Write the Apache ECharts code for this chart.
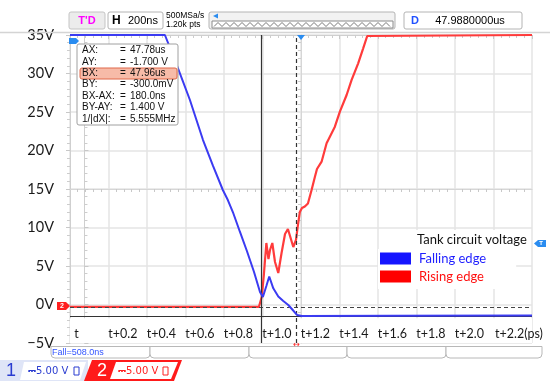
<!DOCTYPE html>
<html><head><meta charset="utf-8">
<script src="https://cdn.jsdelivr.net/npm/echarts@6/dist/echarts.min.js"></script>
<style>html,body{margin:0;padding:0;background:#fff}#c{width:550px;height:381px}</style>
</head><body><div id="c"></div>
<script>
// ---- data (time in "t" units, voltage in V) ----
const fallTime = [-0.075, 0.418, 0.470, 0.548, 0.616, 0.668, 0.719, 0.745, 0.771, 0.808, 0.844, 0.881, 0.912, 0.927, 0.945, 0.960, 0.981, 1.007, 1.033, 1.059, 1.080, 1.104, 1.130, 1.600, 2.325];
const fallVolt = [35, 35, 31.75, 26.56, 21.36, 17.99, 14.87, 13.57, 12.01, 9.42, 6.95, 4.22, 1.62, 0.97, 2.40, 3.64, 2.10, 1.04, 0.45, -0.06, -0.65, -1.36, -1.48, -1.45, -1.43];
const riseTime = [-0.075, 0.906, 0.921, 0.932, 0.945, 0.956, 0.964, 0.976, 0.990, 1.007, 1.024, 1.042, 1.057, 1.068, 1.085, 1.099, 1.109, 1.119, 1.130, 1.145, 1.161, 1.180, 1.197, 1.208, 1.232, 1.258, 1.275, 1.301, 1.327, 1.362, 1.388, 1.422, 1.448, 1.469, 1.478, 2.325];
const riseVolt = [-0.32, -0.32, 0.97, 3.83, 7.99, 5.91, 7.08, 7.99, 5.52, 4.09, 6.69, 9.16, 9.81, 8.90, 7.47, 8.38, 10.32, 12.01, 12.53, 12.73, 13.12, 14.87, 16.56, 17.60, 18.55, 20.94, 21.79, 23.09, 25.04, 27.21, 29.16, 31.32, 33.27, 34.87, 35, 35];
const tickValues = [0, 0.2, 0.4, 0.6, 0.8, 1.0, 1.2, 1.4, 1.6, 1.8, 2.0, 2.2];
const tickLabels = ['t', 't+0.2', 't+0.4', 't+0.6', 't+0.8', 't+1.0', 't+1.2', 't+1.4', 't+1.6', 't+1.8', 't+2.0', 't+2.2(ps)'];
const seriesNames = ['Falling edge', 'Rising edge'];
const legendTitle = 'Tank circuit voltage';
const cursorAX = 0.917, cursorBX = 1.099, cursorAY = -1.55, cursorBY = -0.3;
const cursorRows = [['AX:', '47.78us'], ['AY:', '-1.700 V'], ['BX:', '47.96us'], ['BY:', '-300.0mV'], ['BX-AX:', '180.0ns'], ['BY-AY:', '1.400 V'], ['1/|dX|:', '5.555MHz']];

const xMin = -0.075, xMax = 2.325, yMin = -5, yMax = 35;
const BLUE = '#3b3bf2', RED = '#ff3b3b';
const FONT = 'Lato';
const zip = (a, b) => a.map((v, i) => [v, b[i]]);

// ---- decorations (oscilloscope frame) ----
const deco = [];
const Z = 100;
const rect = (x, y, w, h, fill, stroke, r) => deco.push({type: 'rect', z: Z, shape: {x, y, width: w, height: h, r: r || 0}, style: {fill, stroke, lineWidth: 1}});
const txt = (x, y, text, font, fill, align) => deco.push({type: 'text', z: Z + 1, x, y, style: {text, font, fill, align: align || 'left', verticalAlign: 'middle'}});
const poly = (pts, fill) => deco.push({type: 'polygon', z: Z, shape: {points: pts}, style: {fill}});

deco.push({type: 'line', z: Z, shape: {x1: 0, y1: 32.5, x2: 550, y2: 32.5}, style: {stroke: '#d4d4d4', lineWidth: 1.5}});
rect(69, 12, 36, 17, '#ececec', '#c4c4c4', 2); txt(87, 20.5, "T'D", 'bold 11px "Liberation Sans"', '#ff00ff', 'center');
rect(108, 12, 55, 17, '#fff', '#b4b4b4', 2); txt(112, 20.5, 'H', 'bold 12px "Liberation Sans"', '#000'); txt(128, 20.5, '200ns', '11px "Liberation Sans"', '#000');
txt(166, 16, '500MSa/s', '8.5px "Liberation Sans"', '#000'); txt(166, 25, '1.20k pts', '8.5px "Liberation Sans"', '#000');
rect(209, 12, 186, 17, '#f2f2f2', '#b4b4b4', 2); rect(212, 21, 181, 7, '#fff', '#8c8c8c', 0);
poly([[213, 16], [218, 13.5], [218, 18.5]], '#2a8cf0');
const zz = []; for (let i = 0; i <= 44; i++) zz.push([214 + i * 4, i % 2 ? 22.5 : 26.5]);
deco.push({type: 'polyline', z: Z + 1, shape: {points: zz}, style: {stroke: '#555', lineWidth: 0.8, fill: null}});
rect(404, 12, 118, 17, '#fff', '#b4b4b4', 2); txt(411, 20.5, 'D', 'bold 11px "Liberation Sans"', '#2050ff'); txt(470, 20.5, '47.9880000us', '11px "Liberation Sans"', '#000', 'center');
// cursor readout box
rect(77, 44, 101, 81, '#fff', '#a0a0a0', 2);
rect(80, 68, 97, 11, '#f7bba8', '#e0684a', 2);
cursorRows.forEach((r, i) => { const y = 50.5 + i * 11.4; txt(82, y, r[0], '10px "Liberation Sans"', '#111'); txt(120, y, '=', '10px "Liberation Sans"', '#111'); txt(130, y, r[1], '10px "Liberation Sans"', '#111'); });
// flags
poly([[69, 38], [76, 38], [79, 41], [76, 44], [69, 44]], '#2a8cf0');
poly([[297, 35], [305, 35], [301, 40]], '#2a8cf0');
poly([[57, 302], [66, 302], [70, 306], [66, 310], [57, 310]], '#ff2020'); txt(62, 306.2, '2', 'bold 7px "Liberation Sans"', '#fff', 'center');
poly([[538, 240], [546, 240], [546, 247], [538, 247], [534, 243.5]], '#2a8cf0'); txt(541, 243.6, 'T', 'bold 6px "Liberation Sans"', '#fff', 'center');
txt(296.5, 345, '↔', '8px "DejaVu Sans"', '#ff2020', 'center');
// bottom tabs
[[51, 150], [150, 249], [249, 347], [347, 446], [446, 542]].forEach(s => rect(s[0], 346.5, s[1] - s[0], 11.5, '#fff', '#b8b8b8', [0, 0, 4, 4]));
txt(52, 353, 'Fall=508.0ns', '9px "Liberation Sans"', '#3355ff');
// channel boxes
rect(0, 360, 88, 21, '#dfe5f7', null, 0);
txt(11, 371, '1', '18px "Liberation Sans"', '#2a3cd0', 'center');
poly([[24, 362], [86, 362], [80, 380], [20, 380]], '#fff');
txt(28, 371, '⎓5.00 V', '10px "DejaVu Sans"', '#2a3cd0');
rect(74, 367, 5, 8, '#fff', '#2a3cd0', 0);
poly([[92, 360], [182, 360], [174, 381], [84, 381]], '#ff1a1a');
txt(102, 371, '2', '18px "Liberation Sans"', '#fff', 'center');
poly([[116, 362], [178, 362], [171, 379], [110, 379]], '#fff');
txt(118, 371, '⎓5.00 V', '10px "DejaVu Sans"', '#ff2020');
rect(163, 367, 5, 8, '#fff', '#ff2020', 0);

const edgeAxis = (extra) => Object.assign({
  type: 'value', min: 0, max: 12, interval: 1,
  axisLine: {show: true, lineStyle: {color: '#cfcfcf', width: 1}},
  axisTick: {show: true, inside: true, length: 4, lineStyle: {color: '#c8c8c8'}},
  minorTick: {show: true, splitNumber: 5, length: 3, lineStyle: {color: '#cdcdcd'}},
  axisLabel: {show: false}, splitLine: {show: false}
}, extra);
const edgeYAxis = (extra) => Object.assign(edgeAxis({}), {min: yMin, max: yMax, interval: 5}, extra);

const chart = echarts.init(document.getElementById('c'), null, {renderer: 'canvas'});
chart.setOption({
  animation: false,
  grid: {left: 70, right: 18, top: 35, bottom: 38, containLabel: false},
  title: {text: legendTitle, left: 413, top: 230, padding: [3, 4, 3, 4], backgroundColor: '#fff',
    textStyle: {fontFamily: FONT, fontSize: 13, fontWeight: 'normal', color: '#111'}},
  legend: {
    orient: 'vertical', left: 378, top: 249, itemGap: 5, icon: 'rect', itemWidth: 31, itemHeight: 12,
    backgroundColor: '#fff', padding: [3, 30, 6, 2], selectedMode: false,
    textStyle: {fontFamily: FONT, fontSize: 13, padding: [0, 0, 0, 3]},
    data: [
      {name: seriesNames[0], itemStyle: {color: '#1515ff'}, textStyle: {color: '#1f1fff'}},
      {name: seriesNames[1], itemStyle: {color: '#ff0000'}, textStyle: {color: '#ff1010'}}
    ]
  },
  xAxis: [
    {type: 'value', min: xMin, max: xMax, z: 6,
      axisLine: {show: false}, axisTick: {show: false}, splitLine: {show: false},
      axisLabel: {inside: true, margin: 3, customValues: tickValues, fontFamily: FONT, fontSize: 12.5, color: '#1a1a1a',
        formatter: v => { const i = tickValues.findIndex(t => Math.abs(t - v) < 1e-6); const s = tickLabels[i] || '';
          if (i === 0) return '{a|' + s + '}'; if (i === tickLabels.length - 1) return '{b|' + s + '}'; return s; },
        rich: {a: {padding: [0, 16, 0, 0], fontFamily: FONT, fontSize: 12.5, color: '#1a1a1a'},
               b: {padding: [0, 0, 0, 22], fontFamily: FONT, fontSize: 12.5, color: '#1a1a1a'}}}},
    {type: 'value', min: 0, max: 12, interval: 1, axisLine: {show: false}, axisTick: {show: false}, axisLabel: {show: false},
      splitLine: {show: true, lineStyle: {color: '#e4e4e4', width: 1.5}}},
    edgeAxis({position: 'bottom', offset: -154, axisTick: {show: false}, minorTick: {show: true, splitNumber: 5, length: 3, lineStyle: {color: '#c8c8c8'}}, axisLine: {show: true, lineStyle: {color: '#d6d6d6'}}}),
    edgeAxis({position: 'top'})
  ],
  yAxis: [
    {type: 'value', min: yMin, max: yMax, interval: 5,
      axisLine: {show: true, lineStyle: {color: '#cfcfcf'}},
      axisTick: {show: true, inside: true, length: 4, lineStyle: {color: '#c8c8c8'}},
      minorTick: {show: true, splitNumber: 5, length: 3, lineStyle: {color: '#cdcdcd'}},
      splitLine: {show: true, lineStyle: {color: '#e4e4e4', width: 1.5}},
      axisLabel: {margin: 16, fontFamily: FONT, fontSize: 14.5, color: '#1a1a1a',
        formatter: v => (v < 0 ? '\u2212' + (-v) : v) + 'V'}},
    edgeYAxis({position: 'left', offset: -231, axisTick: {show: false}, axisLine: {show: true, lineStyle: {color: '#d6d6d6'}}}),
    edgeYAxis({position: 'right'})
  ],
  graphic: deco,
  series: [
    {name: 'band', type: 'line', data: [], z: 1, silent: true, xAxisIndex: 0, yAxisIndex: 0,
      markArea: {silent: true, itemStyle: {color: '#fff'}, data: [[{xAxis: xMin, yAxis: yMin}, {xAxis: xMax, yAxis: -1.78}]]}},
    {name: 'cursors', type: 'line', data: [], z: 3, silent: true, xAxisIndex: 0, yAxisIndex: 0,
      markLine: {silent: true, symbol: ['none', 'none'], label: {show: false},
        data: [
          {yAxis: cursorBY, lineStyle: {type: [4, 3], color: '#444', width: 1.2}},
          {yAxis: cursorAY, lineStyle: {type: 'solid', color: '#333', width: 1.2}},
          {xAxis: cursorAX, lineStyle: {type: 'solid', color: '#333', width: 1.2}},
          {xAxis: cursorBX, lineStyle: {type: [4, 3], color: '#333', width: 1.2}}
        ]}},
    {name: seriesNames[1], type: 'line', data: zip(riseTime, riseVolt), xAxisIndex: 0, yAxisIndex: 0, z: 4,
      showSymbol: false, symbol: 'none', clip: false, color: RED, lineStyle: {color: RED, width: 2.2}},
    {name: seriesNames[0], type: 'line', data: zip(fallTime, fallVolt), xAxisIndex: 0, yAxisIndex: 0, z: 5,
      showSymbol: false, symbol: 'none', clip: false, color: BLUE, lineStyle: {color: BLUE, width: 2}}
  ]
});
</script>
</body></html>
